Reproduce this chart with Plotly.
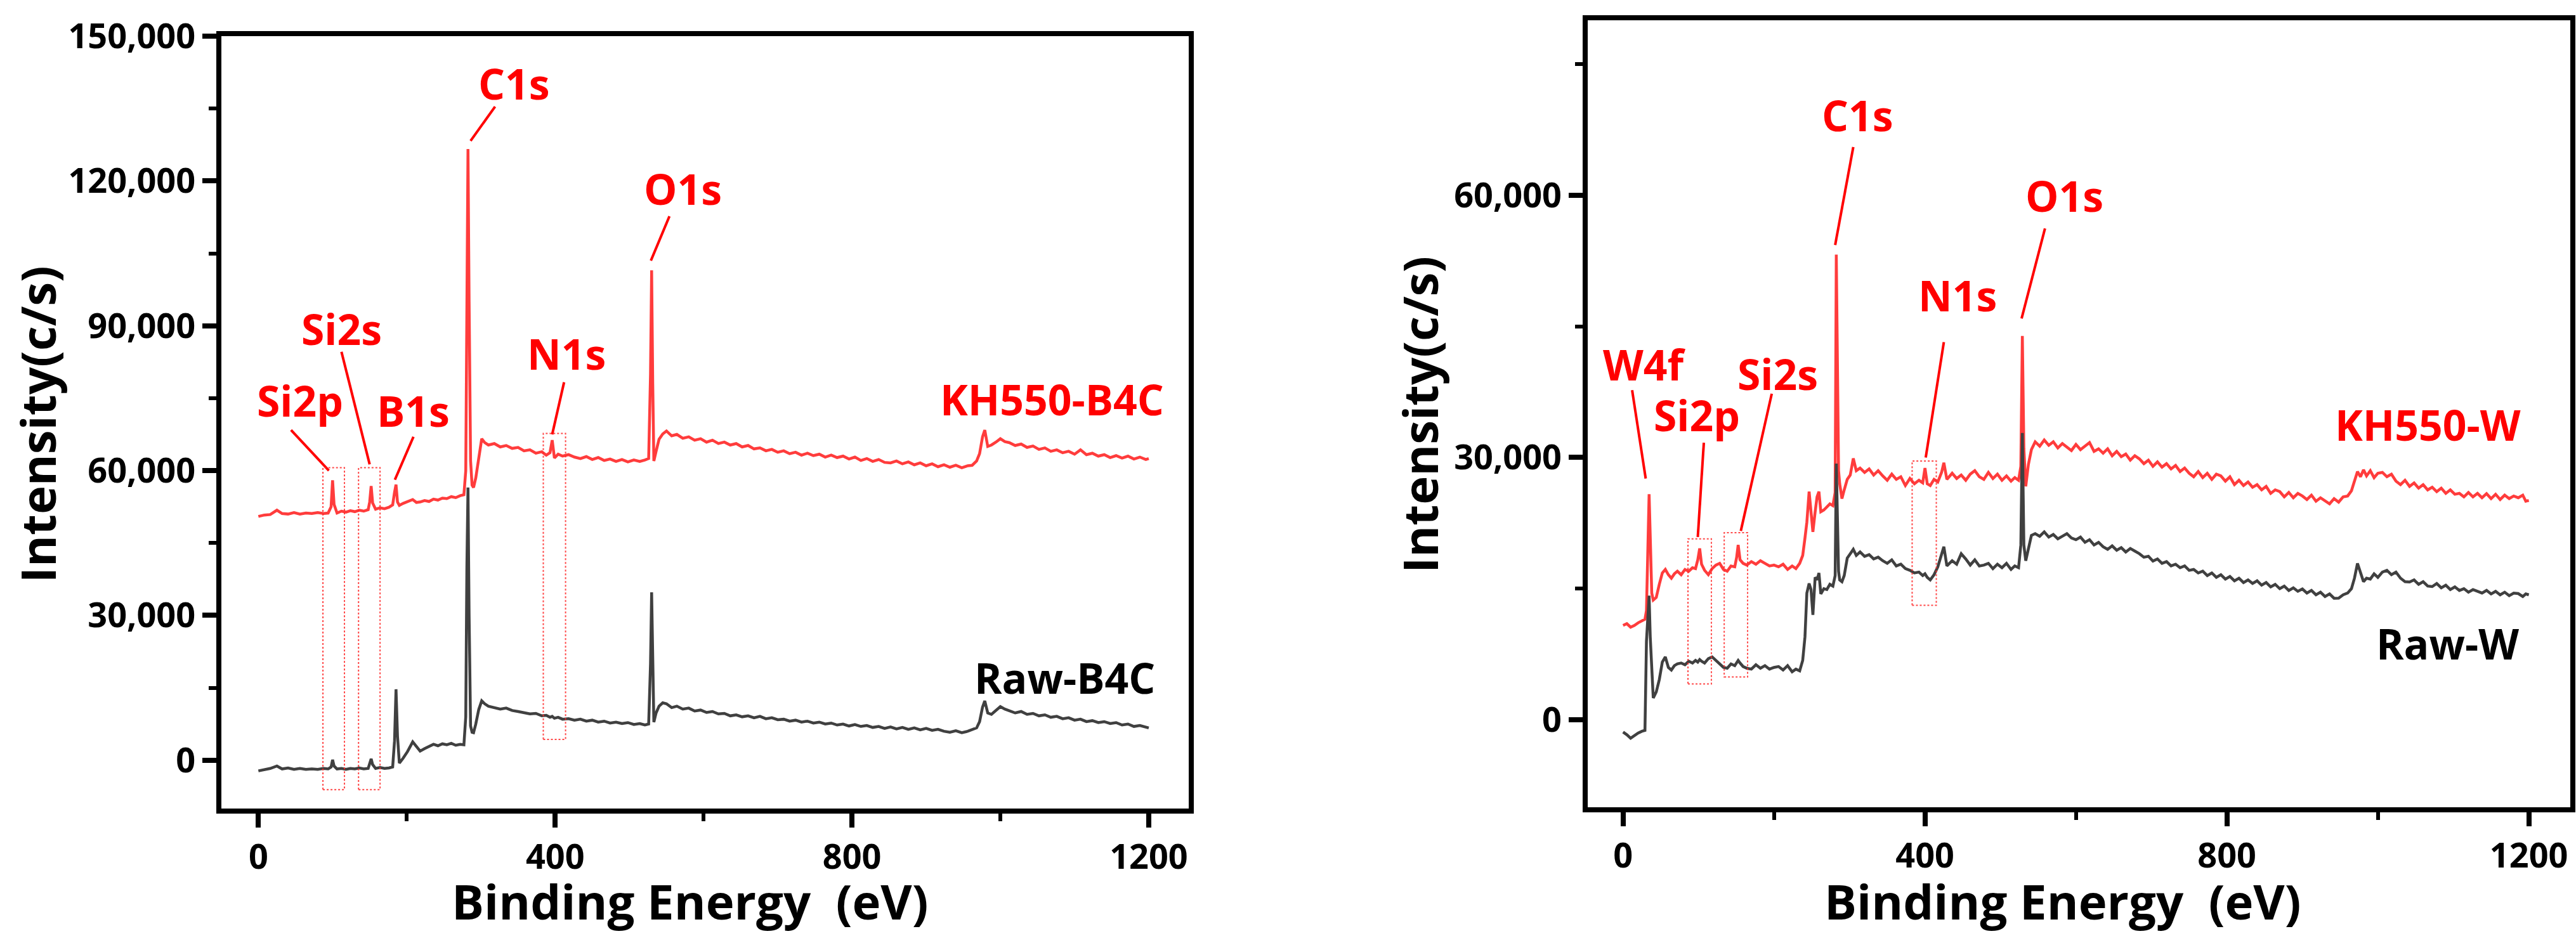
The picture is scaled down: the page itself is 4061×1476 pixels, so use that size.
import plotly.graph_objects as go

# ---------------- data ----------------
# left panel: B4C survey spectra (binding energy in eV, intensity in c/s)
b4c_energy = [
    0, 8, 16, 25, 32, 40, 48, 56, 64, 72,
    80, 88, 94, 98, 100, 102, 106, 112, 118, 124,
    130, 136, 142, 148, 150, 152, 154, 158, 164, 170,
    176, 181, 183.5, 185.5, 187.5, 190, 195, 201, 208, 213,
    218, 224, 230, 236, 242, 248, 254, 260, 266, 272,
    277, 279.5, 281, 282.5, 284, 286, 288, 290, 293, 297,
    301, 305, 310, 318, 326, 334, 342, 350, 358, 366,
    374, 382, 388, 393, 396, 399, 404, 410, 418, 426,
    434, 442, 450, 458, 466, 474, 482, 490, 498, 506,
    514, 521, 526, 528.5, 530, 531.5, 533, 536, 540, 545,
    550, 557, 564, 572, 580, 588, 596, 604, 612, 620,
    628, 636, 644, 652, 660, 668, 676, 684, 692, 700,
    708, 716, 724, 732, 740, 748, 756, 764, 772, 780,
    788, 796, 804, 812, 820, 828, 836, 844, 852, 860,
    868, 876, 884, 892, 900, 908, 916, 924, 932, 940,
    948, 956, 962, 968, 972, 976, 979, 983, 988, 994,
    1000, 1006, 1012, 1020, 1028, 1036, 1044, 1052, 1060, 1068,
    1076, 1084, 1092, 1100, 1108, 1116, 1124, 1132, 1140, 1148,
    1156, 1164, 1172, 1180, 1188, 1196, 1200,
]
kh550_b4c = [
    50500, 50800, 50900, 51800, 51100, 51000, 51300, 51000, 51200, 51100,
    51300, 51100, 51200, 52500, 58000, 53000, 51200, 51600, 51400, 51700,
    51500, 51800, 51600, 51900, 53500, 56800, 53300, 52000, 52300, 52100,
    52400, 52900, 55500, 57100, 53500, 52800, 53200, 53500, 54000, 53400,
    53500, 53800, 53600, 54100, 53900, 54300, 54200, 54600, 54400, 54800,
    55000, 60000, 92000, 126600, 95000, 62000, 57000, 56500, 58500, 63000,
    66600, 65800, 65300, 65600, 64900, 65200, 64600, 64800, 64100, 64300,
    63600, 63900, 63200, 63700, 66300, 62600, 63400, 63000, 63300, 62800,
    62500, 62900, 62300, 62700, 62100, 62400, 61900, 62300, 61800, 62200,
    61900, 62200, 62500, 80000, 101500, 78000, 62000, 64000, 66500, 67600,
    68200, 67200, 67500, 66700, 67000, 66300, 66600, 65900, 66300, 65600,
    65900, 65300, 65600, 64900, 65200, 64500, 64700, 64100, 64400, 63800,
    64100, 63500, 63800, 63200, 63600, 63100, 63400, 62800, 63200, 62700,
    63000, 62400, 62800, 62100, 62500, 61900, 62300, 61700, 61600, 62000,
    61400, 61800, 61200, 61600, 61000, 61400, 60800, 61200, 60700, 61100,
    60600, 61000, 61100, 62000, 63500, 67000, 68400, 65000, 65300, 65900,
    66600, 66000, 65800, 65200, 65500, 64800, 65100, 64400, 64700, 64000,
    64300, 63700, 64000, 63400, 64300, 63300, 63600, 63000, 63300, 62700,
    63100, 62600, 63000, 62400, 62800, 62300, 62500,
]
raw_b4c = [
    -2200, -1900, -1700, -1200, -1800, -1600, -1900, -1700, -1900, -1800,
    -1900, -1700, -1800, -1400, 100, -1200, -1800, -1700, -1900, -1700,
    -1800, -1600, -1800, -1700, -800, 300, -900, -1700, -1500, -1700,
    -1600, -1400, 4000, 14700, 5000, -600, 400, 1800, 3800, 2900,
    1900, 2400, 2900, 3300, 3000, 3400, 3200, 3500, 3100, 3300,
    3200, 9000, 40000, 56500, 30000, 7100, 5800, 5700, 7500, 10500,
    12300, 11700, 11200, 10900, 10600, 10800, 10300, 10100, 9800, 9600,
    9700, 9200, 9300, 8900, 9100, 8700, 8900, 8500, 8600, 8300,
    8500, 8100, 8300, 7900, 8100, 7700, 7900, 7600, 7800, 7400,
    7600, 7300, 7500, 20000, 34800, 18000, 7900, 9800, 11200, 11900,
    11700, 10900, 11200, 10600, 10800, 10200, 10400, 9900, 10100, 9600,
    9700, 9200, 9400, 9000, 9200, 8800, 9100, 8600, 8800, 8400,
    8500, 8100, 8300, 7900, 8100, 7700, 7900, 7500, 7700, 7300,
    7500, 7100, 7400, 7000, 7200, 6800, 7000, 6600, 6900, 6500,
    6800, 6400, 6700, 6300, 6600, 6200, 6400, 6000, 5800, 6100,
    5700, 6000, 6400, 6700, 8000, 11000, 12300, 9800, 9500, 10300,
    11100, 10600, 10300, 9800, 10100, 9500, 9700, 9200, 9400, 8900,
    9100, 8600, 8800, 8300, 8500, 8000, 8200, 7800, 8000, 7600,
    7800, 7300, 7500, 7000, 7200, 6800, 6700,
]

# right panel: W survey spectra
w_energy = [
    0, 5, 10, 15, 20, 25, 29, 31, 33, 34.5,
    36, 38, 40, 44, 48, 52, 56, 60, 64, 68,
    72, 77, 82, 87, 92, 96, 99, 101.5, 104, 108,
    113, 118, 123, 128, 133, 138, 143, 148, 150.5, 152.5,
    155, 159, 164, 170, 176, 182, 188, 194, 200, 206,
    212, 218, 224, 229, 234, 238, 241, 243.5, 246.5, 249,
    251.5, 254.5, 257, 259.5, 262, 266, 270, 274, 278, 281,
    282.5, 284, 285.5, 287, 290, 293, 297, 301, 305, 309,
    314, 320, 326, 332, 338, 344, 350, 356, 362, 368,
    374, 380, 386, 392, 397, 400, 403, 407, 412, 417,
    422, 425, 429, 436, 442, 448, 454, 460, 466, 472,
    478, 484, 490, 496, 502, 508, 514, 519, 524, 527,
    529, 531, 533.5, 537, 541, 546, 552, 558, 564, 570,
    576, 582, 588, 594, 600, 606, 612, 618, 624, 630,
    636, 642, 648, 654, 660, 666, 672, 678, 684, 690,
    696, 702, 708, 714, 720, 726, 732, 738, 744, 750,
    756, 762, 768, 774, 780, 786, 792, 798, 804, 810,
    816, 822, 828, 834, 840, 846, 852, 858, 864, 870,
    876, 882, 888, 894, 900, 906, 912, 918, 924, 930,
    936, 942, 948, 954, 960, 965, 969, 973, 977, 981,
    985, 990, 995, 1000, 1006, 1012, 1018, 1024, 1030, 1036,
    1042, 1048, 1054, 1060, 1066, 1072, 1078, 1084, 1090, 1096,
    1102, 1108, 1114, 1120, 1126, 1132, 1138, 1144, 1150, 1156,
    1162, 1168, 1174, 1180, 1186, 1192, 1196, 1200,
]
kh550_w = [
    10800, 11000, 10600, 10800, 11100, 11300, 11500, 12500, 21000, 25800,
    21000, 14500, 13700, 14000, 15500, 16800, 17200, 16600, 16200, 16700,
    17000, 16600, 17200, 17000, 17400, 17300, 18300, 19600, 17800, 17100,
    16600, 17300, 17700, 17900, 17200, 17000, 17600, 17500, 18600, 20000,
    18300, 17900, 17700, 18100, 17800, 18200, 17900, 17600, 17700, 17500,
    17800, 17200, 17600, 17300, 17900, 18800, 20800, 22600, 26100, 23500,
    21500, 23800, 25500, 26100, 23800, 24000, 24300, 24700, 24500, 26000,
    53200, 38000, 28500, 27000, 25300, 26300, 27500, 28000, 29900, 28500,
    28800, 28300, 28700, 28000, 28500, 27900, 27400, 28100, 27500, 27800,
    26800, 27600, 27000, 27400, 27100, 28800, 27000, 26800, 27500, 27200,
    28300, 29400, 27500, 28200, 27600, 28000, 27400, 28100, 28500, 27800,
    27500, 28300, 27600, 28100, 27400, 27900, 27300, 27700, 27400, 29000,
    43900, 31000, 26700, 29200, 30900, 31800, 31300, 32000, 31400, 31800,
    31100, 31600, 31200, 30800, 31500, 30900, 31300, 31700, 30700, 31000,
    30500, 31000, 30200, 30700, 30100, 30400, 29700, 30200, 29850, 29300,
    29700, 29000, 29500, 28900, 29300, 28700, 29100, 28400, 28800, 28200,
    27800, 28400, 27700, 28200, 27500, 28100, 27900, 27300, 27800, 26900,
    27400, 26800, 27200, 26600, 26900, 26300, 26700, 25900, 26300, 26100,
    25500, 26000, 25400, 25900, 25600, 25200, 25700, 25000, 25400, 25000,
    24700, 25300, 24900, 25500, 25600, 26200, 27300, 28400, 27800, 28600,
    27900, 28500, 27700, 28200, 28300, 27800, 28100, 27300, 26900, 27400,
    26700, 27100, 26500, 26900, 26300, 26600, 26100, 26500, 25900, 26300,
    25800, 25900, 25500, 26000, 25500, 25900, 25400, 25870, 25300, 25800,
    25200, 25700, 25300, 25600, 25400, 25700, 25000, 25100,
]
raw_w = [
    -1400, -1700, -2100, -1800, -1500, -1300, -1200, 9000, 12000, 14200,
    9500, 5000, 2500, 3200, 4600, 6600, 7200, 6000, 5700, 6200,
    6400, 6500, 6300, 6700, 6500, 6800, 6600, 6900, 6700, 6500,
    7000, 7200, 6800, 6500, 6000, 5900, 6400, 6200, 6600, 6800,
    6500, 6100, 5900, 5800, 6300, 5900, 6200, 5800, 6000, 6100,
    5700, 6200, 5500, 5800, 5600, 6800, 9500, 14500, 15600, 14900,
    12000, 16300, 16000, 16800, 14400, 15000, 14900, 15500, 15300, 16500,
    29300, 22000, 17000, 16000, 15800, 16500, 18500, 19000, 19500, 18800,
    19200, 18700, 18900, 18400, 18600, 18200, 17900, 18300, 17600, 17800,
    17300, 17100, 16800, 16900, 16500, 16700, 16300, 16000, 16600, 17500,
    19000, 19800, 17600, 18200, 17800, 19000, 18400, 17700, 18300, 17600,
    17700, 17900, 17300, 17800, 17400, 17900, 17200, 17600, 17400, 20000,
    32800, 20000, 18200, 19500, 21100, 21300, 21000, 21500, 20900, 21200,
    20700, 21000, 21300, 20800, 20600, 20900, 20300, 20600, 20000, 20300,
    19800, 19500, 19900, 19400, 19700, 19200, 19600, 19300, 19000, 18600,
    18700, 18160, 18400, 17900, 18100, 17600, 17800, 17400, 17600, 17100,
    17200, 16800, 17000, 16500, 16800, 16300, 16600, 16100, 16400, 15900,
    16200, 15700, 16000, 15600, 15900, 15400, 15700, 15200, 15500, 15000,
    15300, 14800, 15100, 14700, 14970, 14500, 14800, 14300, 14600, 14100,
    14400, 13900, 13910, 14300, 14500, 15000, 16200, 17900, 16900, 15800,
    16200, 16100, 16700, 16300, 16900, 17100, 16600, 16900, 16200, 15800,
    15770, 16000, 15500, 15800, 15300, 15240, 15600, 15100, 15400, 14900,
    15200, 14800, 15000, 14600, 14900, 14710, 14500, 14800, 14400, 14700,
    14300, 14600, 14200, 14500, 14440, 14100, 14400, 14300,
]

assert len(b4c_energy) == len(kh550_b4c) == len(raw_b4c)
assert len(w_energy) == len(kh550_w) == len(raw_w)

x_ticks = [0, 400, 800, 1200]

# ---------------- annotation placement (data units) ----------------
# (text, label x, label y, pointer start, pointer end)
b4c_peak_labels = [
    ("C1s", 345, 140300, (319, 135400), (286, 128300)),
    ("O1s", 572, 118500, (554, 112700), (529, 103500)),
    ("N1s", 415, 84300, (412, 78300), (396, 67500)),
    ("Si2s", 112, 89400, (112, 84600), (150, 61300)),
    ("Si2p", 56, 74600, (44, 68400), (95, 60000)),
    ("B1s", 209, 72500, (209, 67000), (184, 58100)),
]
w_peak_labels = [
    ("C1s", 311, 69200, (305, 65500), (281, 54300)),
    ("O1s", 585, 60000, (559, 56200), (528, 45900)),
    ("N1s", 443, 48600, (425, 43200), (401, 30000)),
    ("Si2s", 205, 39600, (197, 37300), (156, 21600)),
    ("Si2p", 98, 34900, (107, 31700), (99, 20900)),
    ("W4f", 28, 40700, (12, 37700), (30, 27600)),
]
# dotted boxes: (x0, x1, y0, y1)
b4c_boxes = [(87, 116, -6100, 60600), (135, 164, -6100, 60600), (384, 414, 4300, 67700)]
w_boxes = [(86, 117, 4100, 20700), (134, 165, 4900, 21400), (383, 415, 13100, 29600)]
# sample names: (text, x, y, colour)
b4c_names = [("KH550-B4C", 1070, 74900, "#FF0000"), ("Raw-B4C", 1087, 17200, "#000000")]
w_names = [("KH550-W", 1066, 33800, "#FF0000"), ("Raw-W", 1092, 8800, "#000000")]

RED_LINE = "#FF3C3C"
GREY_LINE = "#404040"
FONT = "Open Sans"

fig = go.Figure()

for xa, ya, energy, red, grey in [("x", "y", b4c_energy, kh550_b4c, raw_b4c),
                                  ("x2", "y2", w_energy, kh550_w, raw_w)]:
    fig.add_trace(go.Scatter(x=energy, y=red, mode="lines", xaxis=xa, yaxis=ya,
                             line=dict(color=RED_LINE, width=4.5), showlegend=False))
    fig.add_trace(go.Scatter(x=energy, y=grey, mode="lines", xaxis=xa, yaxis=ya,
                             line=dict(color=GREY_LINE, width=4.5), showlegend=False))

annotations = []
shapes = []
for xa, ya, peaks, boxes, names in [("x", "y", b4c_peak_labels, b4c_boxes, b4c_names),
                                    ("x2", "y2", w_peak_labels, w_boxes, w_names)]:
    for text, lx, ly, p0, p1 in peaks:
        annotations.append(dict(x=lx, y=ly, xref=xa, yref=ya, text=text, showarrow=False,
                                xanchor="center", yanchor="middle",
                                font=dict(family=FONT, size=66, color="#FF0000", weight="bold")))
        shapes.append(dict(type="line", xref=xa, yref=ya, x0=p0[0], y0=p0[1], x1=p1[0], y1=p1[1],
                           line=dict(color="#FF0000", width=4)))
    for x0, x1, y0, y1 in boxes:
        shapes.append(dict(type="rect", xref=xa, yref=ya, x0=x0, x1=x1, y0=y0, y1=y1,
                           line=dict(color="rgba(255,40,40,0.85)", width=2, dash="dot")))
    for text, lx, ly, colour in names:
        annotations.append(dict(x=lx, y=ly, xref=xa, yref=ya, text=text, showarrow=False,
                                xanchor="center", yanchor="middle",
                                font=dict(family=FONT, size=66, color=colour, weight="bold")))

# axis titles
title_font = dict(family=FONT, size=76, color="black", weight="bold")
for x, y in [(0.2679, 0.0375), (0.8008, 0.0375)]:
    annotations.append(dict(x=x, y=y, xref="paper", yref="paper", text="Binding Energy\u00a0 (eV)",
                            showarrow=False, xanchor="center", yanchor="middle", font=title_font))
for x, y in [(0.0143, 0.5467), (0.5508, 0.5569)]:
    annotations.append(dict(x=x, y=y, xref="paper", yref="paper", text="Intensity(c/s)",
                            showarrow=False, xanchor="center", yanchor="middle", textangle=-90,
                            font=title_font))

axis_common = dict(showline=True, linewidth=8, linecolor="black", mirror=True,
                   ticks="outside", ticklen=22, tickwidth=8, tickcolor="black",
                   showgrid=False, zeroline=False, automargin=False,
                   tickfont=dict(family=FONT, size=54, color="black", weight="bold"))

fig.update_layout(
    width=4061, height=1476,
    margin=dict(l=0, r=0, t=0, b=0, pad=0, autoexpand=False),
    paper_bgcolor="white", plot_bgcolor="white",
    xaxis=dict(domain=[0.0859, 0.4615], range=[-50, 1254], tickvals=x_ticks, anchor="y",
               minor=dict(ticks="outside", dtick=200, tick0=0, ticklen=12, tickwidth=6, tickcolor="black"),
               **axis_common),
    yaxis=dict(domain=[0.1362, 0.9614], range=[-10000, 150000], dtick=30000, tick0=0,
               tickformat=",d", anchor="x",
               minor=dict(ticks="outside", dtick=15000, tick0=0, ticklen=12, tickwidth=6, tickcolor="black"),
               **axis_common),
    xaxis2=dict(domain=[0.6163, 0.9978], range=[-47, 1255], tickvals=x_ticks, anchor="y2",
                minor=dict(ticks="outside", dtick=200, tick0=0, ticklen=12, tickwidth=6, tickcolor="black"),
                **axis_common),
    yaxis2=dict(domain=[0.1375, 0.9783], range=[-10000, 80000], dtick=30000, tick0=0,
                tickformat=",d", anchor="x2",
                minor=dict(ticks="outside", dtick=15000, tick0=0, ticklen=12, tickwidth=6, tickcolor="black"),
                **axis_common),
    annotations=annotations,
    shapes=shapes,
)

fig.write_html("out.html", config={"displayModeBar": False},
               post_script="document.body.style.margin='0';document.body.style.overflow='hidden';")
